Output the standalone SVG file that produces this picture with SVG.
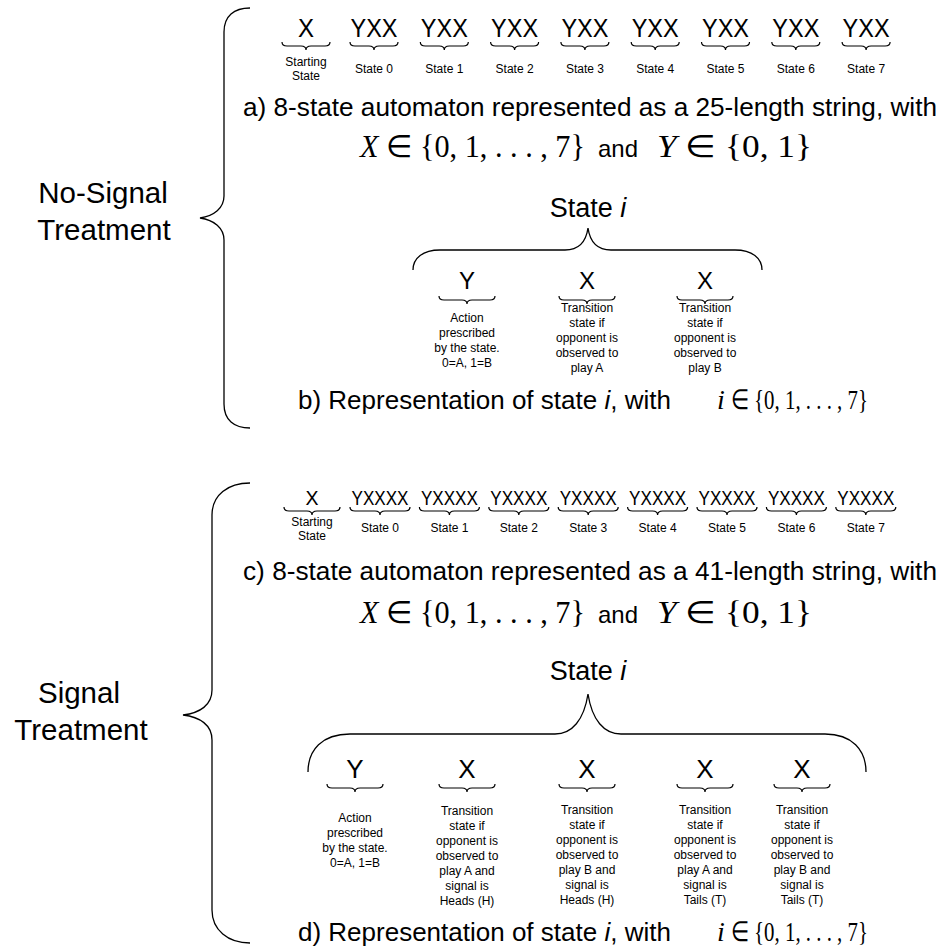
<svg xmlns="http://www.w3.org/2000/svg" xmlns:xlink="http://www.w3.org/1999/xlink" width="941" height="947" viewBox="0 0 941 947">
<style>
text{font-family:"Liberation Sans",Arial,sans-serif;fill:#000}
.m{font-family:"Liberation Serif","Times New Roman",serif}
.br{fill:none;stroke:#000;stroke-width:1.3}
.sb{fill:none;stroke:#000;stroke-width:1.2}
.mid{text-anchor:middle}
.lbl{font-size:12px;text-anchor:middle}
.big{font-size:29.5px;text-anchor:middle}
.cap{font-size:26px}
.r1{font-size:26px;text-anchor:middle}
.r2{font-size:20px;text-anchor:middle}
.let{text-anchor:middle}
</style>
<defs>
<path id="b48" d="M-24 0 Q-24 4 -19 4 L-5 4 Q0 4 0 8 Q0 4 5 4 L19 4 Q24 4 24 0"/>
<path id="b56" d="M-28 0 Q-28 4 -23 4 L-5 4 Q0 4 0 8 Q0 4 5 4 L23 4 Q28 4 28 0"/>
<path id="b60" d="M-30 0 Q-30 4 -25 4 L-5 4 Q0 4 0 8 Q0 4 5 4 L25 4 Q30 4 30 0"/>
</defs>
<rect width="941" height="947" fill="#fff"/>

<g id="no-signal-treatment">
<text class="big" x="103" y="203">No-Signal</text>
<text class="big" x="104" y="240">Treatment</text>
</g>
<g id="signal-treatment">
<text class="big" x="79" y="703">Signal</text>
<text class="big" x="81" y="740">Treatment</text>
</g>

<g id="connectors">
<path class="br" d="M250 8 C234 8 224 16 224 32 L224 196 C224 208 214 216 200 218 C214 220 224 228 224 240 L224 404 C224 420 234 428 250 428"/>
<path class="br" d="M250 483 C228 483 212 495 212 515 L212 690 C212 705 200 713 183 715 C200 717 212 725 212 740 L212 910 C212 930 228 943 250 943"/>
<path class="br" d="M413 270 C413 258 423 250 440 250 L565 250 C578 250 586 242 588 228 C590 242 598 250 611 250 L735 250 C752 250 762 258 762 270"/>
<path class="br" d="M308 772 C308 750 322 734 350 734 L555 734 C572 734 584 720 588 694 C592 720 604 734 621 734 L825 734 C852 734 866 750 866 772"/>
<g class="sb">
<use xlink:href="#b48" x="306" y="42"/>
<use xlink:href="#b48" x="374" y="42"/>
<use xlink:href="#b48" x="444.3" y="42"/>
<use xlink:href="#b48" x="514.6" y="42"/>
<use xlink:href="#b48" x="584.9" y="42"/>
<use xlink:href="#b48" x="655.2" y="42"/>
<use xlink:href="#b48" x="725.5" y="42"/>
<use xlink:href="#b48" x="795.8" y="42"/>
<use xlink:href="#b48" x="866.1" y="42"/>
<use xlink:href="#b56" x="467" y="296"/>
<use xlink:href="#b56" x="587" y="296"/>
<use xlink:href="#b56" x="705" y="296"/>
<use xlink:href="#b56" x="312" y="507"/>
<use xlink:href="#b60" x="380" y="507"/>
<use xlink:href="#b60" x="449.4" y="507"/>
<use xlink:href="#b60" x="518.8" y="507"/>
<use xlink:href="#b60" x="588.2" y="507"/>
<use xlink:href="#b60" x="657.6" y="507"/>
<use xlink:href="#b60" x="727" y="507"/>
<use xlink:href="#b60" x="796.4" y="507"/>
<use xlink:href="#b60" x="865.8" y="507"/>
<use xlink:href="#b56" x="355" y="784"/>
<use xlink:href="#b56" x="467" y="784"/>
<use xlink:href="#b56" x="587" y="784"/>
<use xlink:href="#b56" x="705" y="784"/>
<use xlink:href="#b56" x="802" y="784"/>
</g>
</g>

<g id="row-a">
<text class="r1" x="306" y="37" textLength="16" lengthAdjust="spacingAndGlyphs">X</text>
<text class="r1" x="374" y="37" textLength="47" lengthAdjust="spacingAndGlyphs">YXX</text>
<text class="r1" x="444.3" y="37" textLength="47" lengthAdjust="spacingAndGlyphs">YXX</text>
<text class="r1" x="514.6" y="37" textLength="47" lengthAdjust="spacingAndGlyphs">YXX</text>
<text class="r1" x="584.9" y="37" textLength="47" lengthAdjust="spacingAndGlyphs">YXX</text>
<text class="r1" x="655.2" y="37" textLength="47" lengthAdjust="spacingAndGlyphs">YXX</text>
<text class="r1" x="725.5" y="37" textLength="47" lengthAdjust="spacingAndGlyphs">YXX</text>
<text class="r1" x="795.8" y="37" textLength="47" lengthAdjust="spacingAndGlyphs">YXX</text>
<text class="r1" x="866.1" y="37" textLength="47" lengthAdjust="spacingAndGlyphs">YXX</text>
<text class="lbl" x="306" y="66">Starting</text>
<text class="lbl" x="306" y="80">State</text>
<text class="lbl" x="374" y="73">State 0</text>
<text class="lbl" x="444.3" y="73">State 1</text>
<text class="lbl" x="514.6" y="73">State 2</text>
<text class="lbl" x="584.9" y="73">State 3</text>
<text class="lbl" x="655.2" y="73">State 4</text>
<text class="lbl" x="725.5" y="73">State 5</text>
<text class="lbl" x="795.8" y="73">State 6</text>
<text class="lbl" x="866.1" y="73">State 7</text>
</g>

<g id="caption-a">
<text class="cap" x="243" y="116" textLength="694" lengthAdjust="spacingAndGlyphs">a) 8-state automaton represented as a 25-length string, with</text>
<text class="m" x="360" y="157" font-size="31" textLength="225" lengthAdjust="spacingAndGlyphs"><tspan font-style="italic">X</tspan> ∈ {0, 1, . . . , 7}</text>
<text x="598" y="157" font-size="24" textLength="40" lengthAdjust="spacingAndGlyphs">and</text>
<text class="m" x="657" y="157" font-size="31" textLength="155" lengthAdjust="spacingAndGlyphs"><tspan font-style="italic">Y</tspan> ∈ {0, 1}</text>
</g>

<g id="state-i-a">
<text class="mid" x="588" y="217" font-size="27">State <tspan font-style="italic">i</tspan></text>
</g>
<g id="field-y-a">
<text class="let" x="467" y="289" font-size="24">Y</text>
<g class="lbl"><text x="467" y="322">Action</text><text x="467" y="337">prescribed</text><text x="467" y="352">by the state.</text><text x="467" y="367">0=A, 1=B</text></g>
</g>
<g id="field-xa-a">
<text class="let" x="587" y="289" font-size="24">X</text>
<g class="lbl"><text x="587" y="312">Transition</text><text x="587" y="327">state if</text><text x="587" y="342">opponent is</text><text x="587" y="357">observed to</text><text x="587" y="372">play A</text></g>
</g>
<g id="field-xb-a">
<text class="let" x="705" y="289" font-size="24">X</text>
<g class="lbl"><text x="705" y="312">Transition</text><text x="705" y="327">state if</text><text x="705" y="342">opponent is</text><text x="705" y="357">observed to</text><text x="705" y="372">play B</text></g>
</g>
<g id="caption-b">
<text class="cap" x="298" y="409">b) Representation of state <tspan font-style="italic">i</tspan>, with</text>
<text class="m" x="717" y="409" font-size="28" font-style="italic">i</text>
<text class="m" x="731" y="409" font-size="28" textLength="137" lengthAdjust="spacingAndGlyphs">∈ {0, 1, . . . , 7}</text>
</g>

<g id="row-c">
<text class="r2" x="312" y="505" textLength="13" lengthAdjust="spacingAndGlyphs">X</text>
<text class="r2" x="380" y="505" textLength="57" lengthAdjust="spacingAndGlyphs">YXXXX</text>
<text class="r2" x="449.4" y="505" textLength="57" lengthAdjust="spacingAndGlyphs">YXXXX</text>
<text class="r2" x="518.8" y="505" textLength="57" lengthAdjust="spacingAndGlyphs">YXXXX</text>
<text class="r2" x="588.2" y="505" textLength="57" lengthAdjust="spacingAndGlyphs">YXXXX</text>
<text class="r2" x="657.6" y="505" textLength="57" lengthAdjust="spacingAndGlyphs">YXXXX</text>
<text class="r2" x="727" y="505" textLength="57" lengthAdjust="spacingAndGlyphs">YXXXX</text>
<text class="r2" x="796.4" y="505" textLength="57" lengthAdjust="spacingAndGlyphs">YXXXX</text>
<text class="r2" x="865.8" y="505" textLength="57" lengthAdjust="spacingAndGlyphs">YXXXX</text>
<text class="lbl" x="312" y="526">Starting</text>
<text class="lbl" x="312" y="540">State</text>
<text class="lbl" x="380" y="532">State 0</text>
<text class="lbl" x="449.4" y="532">State 1</text>
<text class="lbl" x="518.8" y="532">State 2</text>
<text class="lbl" x="588.2" y="532">State 3</text>
<text class="lbl" x="657.6" y="532">State 4</text>
<text class="lbl" x="727" y="532">State 5</text>
<text class="lbl" x="796.4" y="532">State 6</text>
<text class="lbl" x="865.8" y="532">State 7</text>
</g>

<g id="caption-c">
<text class="cap" x="243" y="580" textLength="694" lengthAdjust="spacingAndGlyphs">c) 8-state automaton represented as a 41-length string, with</text>
<text class="m" x="360" y="623" font-size="31" textLength="225" lengthAdjust="spacingAndGlyphs"><tspan font-style="italic">X</tspan> ∈ {0, 1, . . . , 7}</text>
<text x="598" y="623" font-size="24" textLength="40" lengthAdjust="spacingAndGlyphs">and</text>
<text class="m" x="657" y="623" font-size="31" textLength="155" lengthAdjust="spacingAndGlyphs"><tspan font-style="italic">Y</tspan> ∈ {0, 1}</text>
</g>

<g id="state-i-c">
<text class="mid" x="588" y="680" font-size="27">State <tspan font-style="italic">i</tspan></text>
</g>
<g id="field-y-c">
<text class="let" x="355" y="778" font-size="26">Y</text>
<g class="lbl"><text x="355" y="822">Action</text><text x="355" y="837">prescribed</text><text x="355" y="852">by the state.</text><text x="355" y="867">0=A, 1=B</text></g>
</g>
<g id="field-xah-c">
<text class="let" x="467" y="778" font-size="26">X</text>
<g class="lbl"><text x="467" y="815">Transition</text><text x="467" y="830">state if</text><text x="467" y="845">opponent is</text><text x="467" y="860">observed to</text><text x="467" y="875">play A and</text><text x="467" y="890">signal is</text><text x="467" y="905">Heads (H)</text></g>
</g>
<g id="field-xbh-c">
<text class="let" x="587" y="778" font-size="26">X</text>
<g class="lbl"><text x="587" y="814">Transition</text><text x="587" y="829">state if</text><text x="587" y="844">opponent is</text><text x="587" y="859">observed to</text><text x="587" y="874">play B and</text><text x="587" y="889">signal is</text><text x="587" y="904">Heads (H)</text></g>
</g>
<g id="field-xat-c">
<text class="let" x="705" y="778" font-size="26">X</text>
<g class="lbl"><text x="705" y="814">Transition</text><text x="705" y="829">state if</text><text x="705" y="844">opponent is</text><text x="705" y="859">observed to</text><text x="705" y="874">play A and</text><text x="705" y="889">signal is</text><text x="705" y="904">Tails (T)</text></g>
</g>
<g id="field-xbt-c">
<text class="let" x="802" y="778" font-size="26">X</text>
<g class="lbl"><text x="802" y="814">Transition</text><text x="802" y="829">state if</text><text x="802" y="844">opponent is</text><text x="802" y="859">observed to</text><text x="802" y="874">play B and</text><text x="802" y="889">signal is</text><text x="802" y="904">Tails (T)</text></g>
</g>
<g id="caption-d">
<text class="cap" x="298" y="941">d) Representation of state <tspan font-style="italic">i</tspan>, with</text>
<text class="m" x="717" y="941" font-size="28" font-style="italic">i</text>
<text class="m" x="731" y="941" font-size="28" textLength="137" lengthAdjust="spacingAndGlyphs">∈ {0, 1, . . . , 7}</text>
</g>
</svg>
